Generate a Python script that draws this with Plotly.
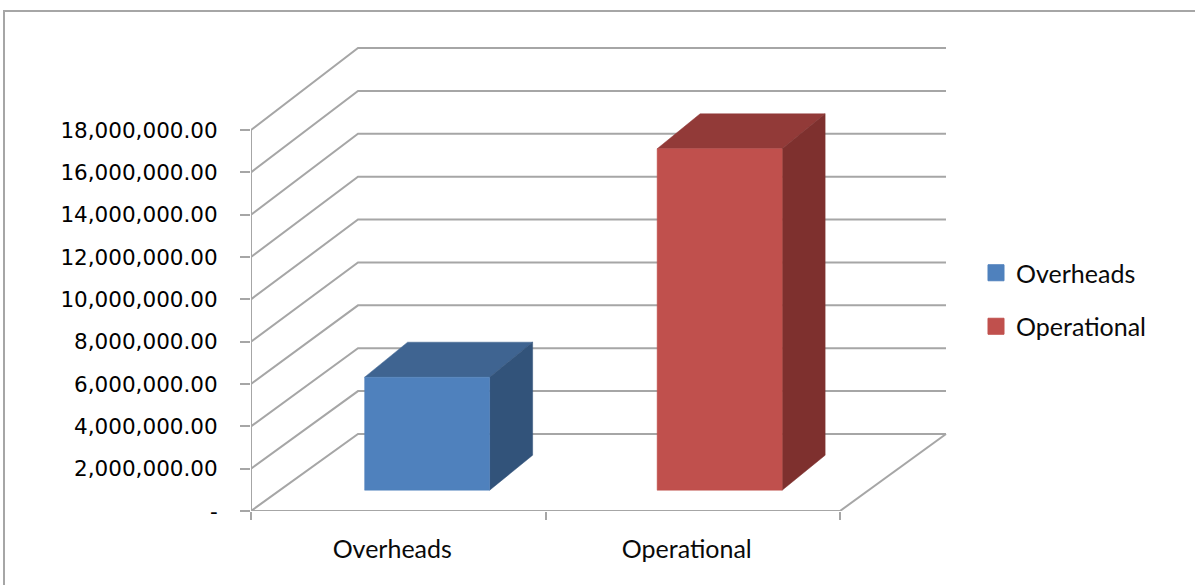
import plotly.graph_objects as go

# Chart content
categories = ["Overheads", "Operational"]
values = [5340000, 16130000]
front_colors = ["#4F81BD", "#C0504D"]
top_colors = ["#3F6491", "#923A38"]
side_colors = ["#32537A", "#7E302E"]
value_ticks = [0, 2000000, 4000000, 6000000, 8000000, 10000000,
               12000000, 14000000, 16000000, 18000000]

GRID = "#A6A6A6"
W, H = 1195, 585
LEFT, RIGHT, TOP, BOTTOM = 251, 950, 40, 511
PX_PER_CATEGORY = 294.5
PX_PER_UNIT = 381.0 / 18000000

# Oblique projection: a step along the depth direction, in axis units
WALL_DX = 107 / PX_PER_CATEGORY
WALL_DY = 77 / PX_PER_UNIT
BACK_STRETCH = 386 / 381  # the back wall reads slightly taller than the front edge
BACK_EXTRA_X = (946 - 840 - 107) / PX_PER_CATEGORY
BAR_PITCH = 292.5 / PX_PER_CATEGORY  # columns sit a little closer together than the ticks
BAR_WIDTH = 125 / PX_PER_CATEGORY
BAR_FRONT = 0.27
BAR_DX = 43 / PX_PER_CATEGORY
BAR_DY = 35 / PX_PER_UNIT

fig = go.Figure()


def line(xs, ys, width=2):
    fig.add_trace(go.Scatter(x=xs, y=ys, mode="lines", showlegend=False,
                             hoverinfo="skip", line=dict(color=GRID, width=width)))


def face(xs, ys, color):
    fig.add_trace(go.Scatter(x=xs, y=ys, mode="lines", fill="toself", fillcolor=color,
                             line=dict(color=color, width=0.5), showlegend=False,
                             hoverinfo="skip"))


n = len(categories)

# Side wall and back wall gridlines
for v in value_ticks:
    back = v * BACK_STRETCH + WALL_DY
    line([0, WALL_DX, n + WALL_DX + BACK_EXTRA_X], [v, back, back])

# Floor edge, front edge and value axis
line([n, n + WALL_DX + BACK_EXTRA_X], [0, WALL_DY])
line([0, n], [0, 0])
line([0, 0], [0, value_ticks[-1]])

# Each column: front, top and right faces in oblique projection
for i, v in enumerate(values):
    x0 = i * BAR_PITCH + 0.5 - BAR_WIDTH / 2 + BAR_FRONT * WALL_DX
    x1 = x0 + BAR_WIDTH
    y0 = BAR_FRONT * WALL_DY
    y1 = y0 + v
    face([x0, x1, x1 + BAR_DX, x0 + BAR_DX, x0],
         [y1, y1, y1 + BAR_DY, y1 + BAR_DY, y1], top_colors[i])
    face([x1, x1 + BAR_DX, x1 + BAR_DX, x1, x1],
         [y0, y0 + BAR_DY, y1 + BAR_DY, y1, y0], side_colors[i])
    face([x0, x1, x1, x0, x0], [y0, y0, y1, y1, y0], front_colors[i])

# Legend entries
for name, color in zip(categories, front_colors):
    fig.add_trace(go.Scatter(x=[None], y=[None], mode="markers", name=name, legendgroup=name,
                             marker=dict(symbol="square", size=16, color=color,
                                         line=dict(color=color, width=1))))

tick_text = ["-" if v == 0 else f"{v:,.2f}" for v in value_ticks]

fig.update_layout(
    width=W, height=H, autosize=False,
    margin=dict(l=LEFT, r=W - RIGHT, t=TOP, b=H - BOTTOM, pad=0),
    paper_bgcolor="white", plot_bgcolor="white",
    font=dict(family="Lato", color="#0A0A0A"),
    xaxis=dict(range=[0, (RIGHT - LEFT) / PX_PER_CATEGORY], showgrid=False, zeroline=False,
               showline=False, tickvals=[i + 0.5 for i in range(n)], ticktext=categories,
               ticks="outside", ticklen=16, tickcolor="rgba(0,0,0,0)", ticklabelshift=-6,
               tickfont=dict(size=25),
               minor=dict(tickvals=list(range(n + 1)), ticks="outside", ticklen=8,
                          tickwidth=2, tickcolor=GRID, showgrid=False)),
    yaxis=dict(range=[0, (BOTTOM - TOP) / PX_PER_UNIT], showgrid=False, zeroline=False,
               showline=False, tickvals=value_ticks, ticktext=tick_text, ticks="outside",
               ticklen=10, tickwidth=2, tickcolor=GRID, ticklabelstandoff=18,
               tickfont=dict(family="DejaVu Sans", size=21.5, color="#000000")),
    legend=dict(x=(976 - LEFT) / (RIGHT - LEFT), y=(BOTTOM - 250) / (BOTTOM - TOP),
                xanchor="left", yanchor="top", tracegroupgap=18,
                font=dict(size=25), bgcolor="rgba(0,0,0,0)"),
    shapes=[dict(type="rect", xref="paper", yref="paper", layer="below",
                 x0=(4 - LEFT) / (RIGHT - LEFT), x1=(1260 - LEFT) / (RIGHT - LEFT),
                 y0=(BOTTOM - 640) / (BOTTOM - TOP), y1=(BOTTOM - 11) / (BOTTOM - TOP),
                 line=dict(color=GRID, width=2), fillcolor="white")],
)

fig.write_html("out.html")
